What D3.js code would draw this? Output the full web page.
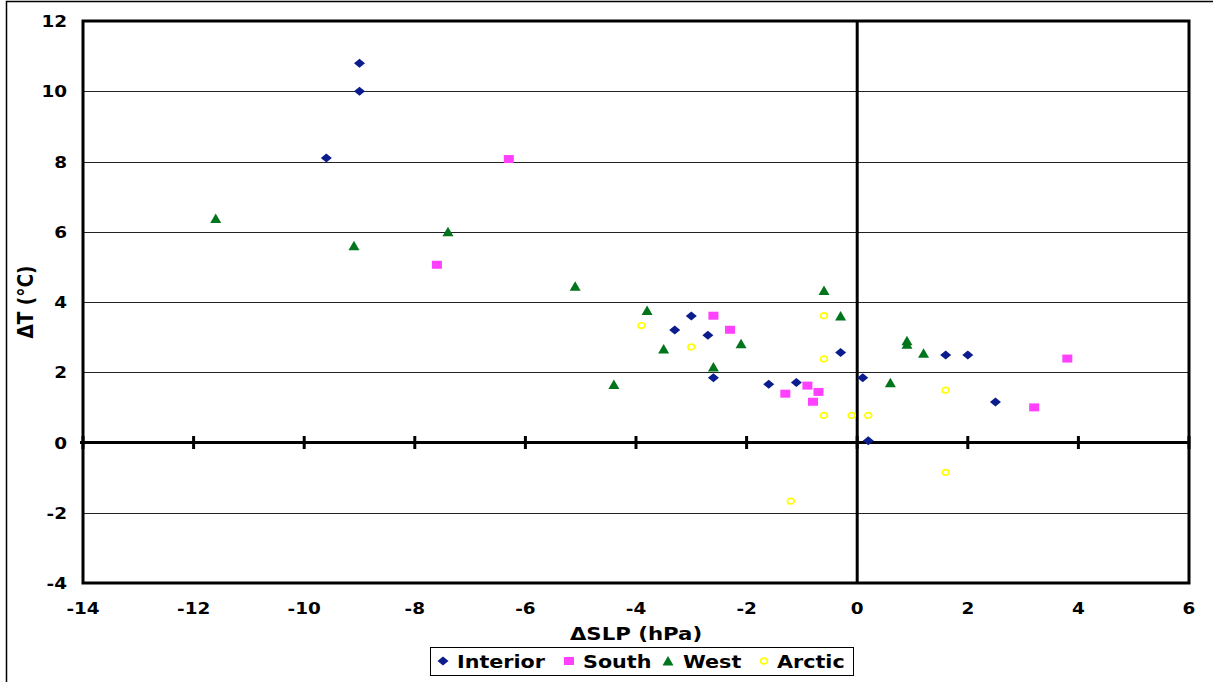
<!DOCTYPE html>
<html>
<head>
<meta charset="utf-8">
<script src="https://cdn.jsdelivr.net/npm/d3@7"></script>
<style>
  body { margin: 0; background: #fff; }
  text { font-family: "DejaVu Sans", Verdana, sans-serif; font-weight: bold; fill: #000; }
</style>
</head>
<body>
<svg width="1213" height="682"></svg>
<script>
// values: [dSLP, dT]
const interiorX = [-9.0, -9.0, -9.6, -3.0, -3.3, -2.7, -2.6, -1.6, -1.1, -0.3, 0.1, 0.2, 1.6, 2.0, 2.5];
const interiorY = [10.8, 10.0, 8.1, 3.6, 3.2, 3.05, 1.84, 1.66, 1.71, 2.56, 1.84, 0.05, 2.49, 2.49, 1.15];

const southX = [-6.3, -7.6, -2.6, -2.3, -1.3, -0.9, -0.7, -0.8, 3.2, 3.8];
const southY = [8.07, 5.06, 3.61, 3.21, 1.39, 1.62, 1.44, 1.16, 1.0, 2.39];

const westX = [-11.6, -9.1, -7.4, -5.1, -3.8, -3.5, -4.4, -2.6, -2.1, -0.6, -0.3, 0.9, 0.9, 1.2, 0.6];
const westY = [6.38, 5.6, 6.0, 4.45, 3.76, 2.66, 1.65, 2.15, 2.81, 4.33, 3.6, 2.9, 2.8, 2.54, 1.7];

const arcticX = [-3.9, -3.0, -0.6, -0.6, -0.6, -0.1, 0.2, 1.6, 1.6, -1.2];
const arcticY = [3.33, 2.72, 3.61, 2.38, 0.77, 0.77, 0.77, 1.49, -0.85, -1.67];

const seriesNames = ['Interior', 'South', 'West', 'Arctic'];
const xTicks = [-14, -12, -10, -8, -6, -4, -2, 0, 2, 4, 6];
const yTicks = [-4, -2, 0, 2, 4, 6, 8, 10, 12];
const xTitle = 'ΔSLP (hPa)';
const yTitle = 'ΔT (°C)';

const series = [
  { name: seriesNames[0], xs: interiorX, ys: interiorY, shape: 'diamond', color: '#0b1c8c' },
  { name: seriesNames[1], xs: southX, ys: southY, shape: 'square', color: '#ff40ff' },
  { name: seriesNames[2], xs: westX, ys: westY, shape: 'triangle', color: '#00751c' },
  { name: seriesNames[3], xs: arcticX, ys: arcticY, shape: 'circle', color: '#ffff00' }
];

const plot = { left: 83, right: 1189, top: 21, bottom: 583 };
const sx = 1.15; // text in the picture is a bit stretched sideways

const x = d3.scaleLinear().domain([-14, 6]).range([plot.left, plot.right]);
const y = d3.scaleLinear().domain([-4, 12]).range([plot.bottom, plot.top]);

const svg = d3.select('svg');

// outer frame
svg.append('rect').
  attr('x', 6.5).attr('y', 1.5).
  attr('width', 1400).attr('height', 1000).
  attr('fill', 'none').attr('stroke', '#000').attr('stroke-width', 1.5);

function label(txt, px, py, size, anchor, rot) {
  return svg.append('text').
    attr('transform', `translate(${px},${py}) scale(${sx},1)` + (rot ? ` rotate(${rot})` : '')).
    attr('text-anchor', anchor).
    style('font-size', size + 'px').
    text(txt);
}

// gridlines
svg.append('g').
  selectAll('line').
  data(yTicks.filter(d => d !== 0 && d !== -4 && d !== 12)).
  enter().append('line').
  attr('x1', plot.left).attr('x2', plot.right).
  attr('y1', d => Math.round(y(d)) + 0.5).attr('y2', d => Math.round(y(d)) + 0.5).
  attr('stroke', '#222').attr('stroke-width', 1);

// zero lines
svg.append('line').
  attr('x1', plot.left - 3).attr('x2', plot.right).
  attr('y1', y(0)).attr('y2', y(0)).
  attr('stroke', '#000').attr('stroke-width', 3);
svg.append('line').
  attr('x1', x(0)).attr('x2', x(0)).
  attr('y1', plot.top).attr('y2', plot.bottom).
  attr('stroke', '#000').attr('stroke-width', 3);

// crossing tick marks on the zero line
svg.append('g').
  selectAll('line').
  data(xTicks).
  enter().append('line').
  attr('x1', d => x(d)).attr('x2', d => x(d)).
  attr('y1', y(0) - 6.5).attr('y2', y(0) + 6.5).
  attr('stroke', '#000').attr('stroke-width', 3);

// plot frame
svg.append('rect').
  attr('x', plot.left).attr('y', plot.top).
  attr('width', plot.right - plot.left).attr('height', plot.bottom - plot.top).
  attr('fill', 'none').attr('stroke', '#000').attr('stroke-width', 3);

// tick labels
yTicks.forEach(d => label(d, 67, y(d) + 6, 16, 'end'));
xTicks.forEach(d => label(d, x(d), 614, 16, 'middle'));

// axis titles
label(xTitle, (plot.left + plot.right) / 2, 640, 18.5, 'middle');
label(yTitle, 33, (plot.top + plot.bottom) / 2, 18.5, 'middle', -90);

// marker shapes
function drawMarker(sel, shape, color) {
  if (shape === 'diamond') {
    sel.append('path').attr('d', 'M-5.5,0L0,-4.5L5.5,0L0,4.5Z').attr('fill', color);
  } else if (shape === 'square') {
    sel.append('rect').attr('x', -5).attr('y', -4).attr('width', 10).attr('height', 8).attr('fill', color);
  } else if (shape === 'triangle') {
    sel.append('path').attr('d', 'M0,-5L5.5,4.5L-5.5,4.5Z').attr('fill', color);
  } else {
    sel.append('ellipse').attr('rx', 3.4).attr('ry', 2.8).
      attr('fill', 'none').attr('stroke', color).attr('stroke-width', 1.7);
  }
}

series.forEach(s => {
  const pts = s.xs.map((v, i) => ({ dx: v, dy: s.ys[i] }));
  svg.append('g').
    attr('class', 'series').
    selectAll('g').
    data(pts).
    enter().append('g').
    attr('transform', d => `translate(${x(d.dx)},${y(d.dy)})`).
    each(function () { drawMarker(d3.select(this), s.shape, s.color); });
});

// legend
const legend = svg.append('g');
legend.append('rect').
  attr('x', 430.5).attr('y', 647.5).attr('width', 423).attr('height', 28).
  attr('fill', '#fff').attr('stroke', '#000').attr('stroke-width', 1);

const legendSym = [443, 569, 668, 764];
const legendTxt = [457, 583, 683, 777];
series.forEach((s, i) => {
  const g = legend.append('g').attr('transform', `translate(${legendSym[i]},661)`);
  drawMarker(g, s.shape, s.color);
  label(s.name, legendTxt[i], 668, 18, 'start');
});
</script>
</body>
</html>
